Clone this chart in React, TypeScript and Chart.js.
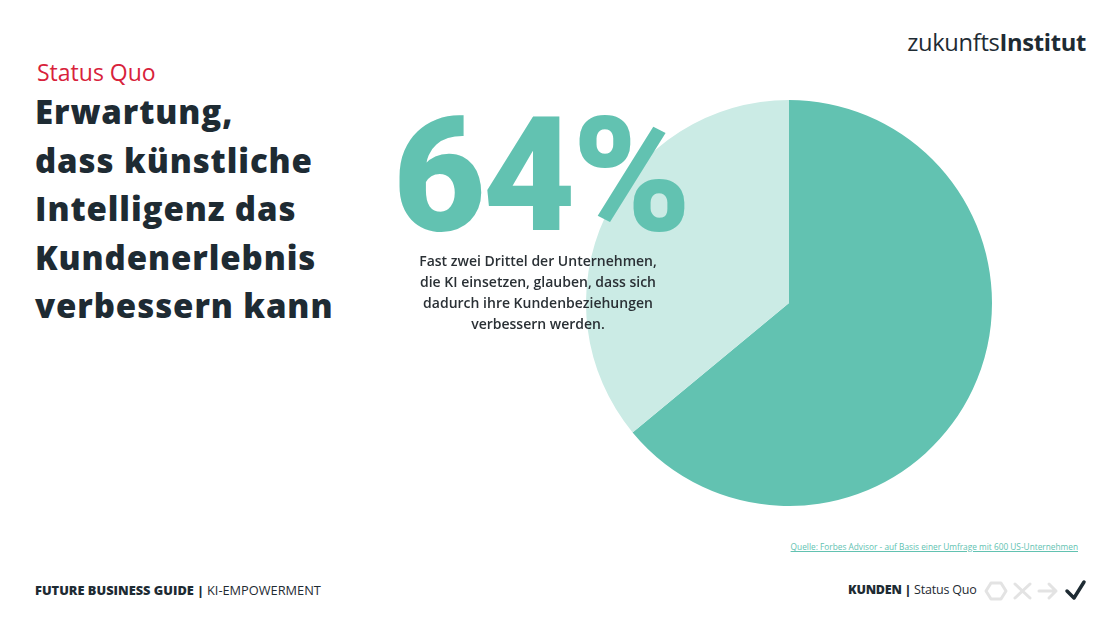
import React, { useEffect, useRef } from "react";
import { Chart, registerables } from "chart.js";

Chart.register(...registerables);

const categories = ["Erwarten bessere Kundenbeziehungen", "Übrige Unternehmen"];
const values = [64, 36];
const sliceColors = ["#62C2B1", "#CBEBE5"];

const headlineLines = [
  "Erwartung,",
  "dass künstliche",
  "Intelligenz das",
  "Kundenerlebnis",
  "verbessern kann",
];
const bigNumber = "64%";
const descriptionLines = [
  "Fast zwei Drittel der Unternehmen,",
  "die KI einsetzen, glauben, dass sich",
  "dadurch ihre Kundenbeziehungen",
  "verbessern werden.",
];
const sourceText = "Quelle: Forbes Advisor - auf Basis einer Umfrage mit 600 US-Unternehmen";

const dark = "#1E2B33";

export default function App() {
  const canvasRef = useRef<HTMLCanvasElement | null>(null);

  useEffect(() => {
    document.body.style.margin = "0";
    const canvas = canvasRef.current;
    if (!canvas) return;
    const chart = new Chart(canvas, {
      type: "pie",
      data: {
        labels: categories,
        datasets: [
          {
            data: values,
            backgroundColor: sliceColors,
            borderWidth: 0,
            hoverOffset: 0,
          },
        ],
      },
      options: {
        responsive: false,
        animation: false,
        layout: { padding: 0 },
        plugins: {
          legend: { display: false },
          tooltip: { enabled: false },
          title: { display: false },
        },
      },
    });
    return () => chart.destroy();
  }, []);

  return (
    <div
      style={{
        position: "relative",
        width: 1120,
        height: 630,
        background: "#ffffff",
        overflow: "hidden",
        fontFamily: "'Open Sans', sans-serif",
      }}
    >
      <canvas
        ref={canvasRef}
        width={406}
        height={406}
        style={{ position: "absolute", left: 586, top: 100, width: 406, height: 406 }}
      />

      {/* Logo */}
      <div
        style={{
          position: "absolute",
          right: 34,
          top: 27,
          fontFamily: "'Open Sans', sans-serif",
          fontSize: 23.7,
          color: dark,
          letterSpacing: -0.3,
          lineHeight: "30px",
        }}
      >
        <span style={{ fontWeight: 500 }}>zukunfts</span>
        <span style={{ fontWeight: 700 }}>Institut</span>
      </div>

      {/* Status Quo */}
      <div
        style={{
          position: "absolute",
          left: 37,
          top: 58,
          fontSize: 23,
          color: "#D8223B",
          lineHeight: "28px",
          fontFamily: "'Open Sans', sans-serif",
        }}
      >
        Status Quo
      </div>

      {/* Headline */}
      <div
        style={{
          position: "absolute",
          left: 35,
          top: 88,
          fontFamily: "'Open Sans', sans-serif",
          fontWeight: 800,
          fontSize: 33,
          lineHeight: "48.5px",
          letterSpacing: 0.9,
          color: dark,
          whiteSpace: "nowrap",
        }}
      >
        {headlineLines.map((l, i) => (
          <div key={i}>{l}</div>
        ))}
      </div>

      {/* Big number */}
      <div
        style={{
          position: "absolute",
          left: 393,
          top: 86,
          fontFamily: "Roboto, sans-serif",
          fontWeight: 900,
          fontSize: 160,
          lineHeight: "180px",
          letterSpacing: -3,
          color: "#62C2B1",
          whiteSpace: "nowrap",
          zIndex: 2,
        }}
      >
        {bigNumber}
      </div>

      {/* Description */}
      <div
        style={{
          position: "absolute",
          left: 388,
          width: 300,
          top: 250,
          textAlign: "center",
          fontFamily: "'Open Sans', sans-serif",
          fontWeight: 600,
          fontSize: 14,
          lineHeight: "21px",
          color: "#2A3035",
          whiteSpace: "nowrap",
          zIndex: 2,
        }}
      >
        {descriptionLines.map((l, i) => (
          <div key={i}>{l}</div>
        ))}
      </div>

      {/* Source */}
      <div
        style={{
          position: "absolute",
          right: 42,
          top: 541,
          fontFamily: "'Open Sans', sans-serif",
          fontSize: 8.3,
          color: "#62C2B1",
          textDecoration: "underline",
          whiteSpace: "nowrap",
        }}
      >
        {sourceText}
      </div>

      {/* Footer left */}
      <div
        style={{
          position: "absolute",
          left: 35,
          top: 581,
          fontFamily: "'Open Sans', sans-serif",
          fontSize: 12.8,
          color: dark,
          whiteSpace: "nowrap",
          lineHeight: "18px",
        }}
      >
        <span style={{ fontWeight: 800 }}>FUTURE BUSINESS GUIDE | </span>
        <span style={{ fontWeight: 400 }}>KI-EMPOWERMENT</span>
      </div>

      {/* Footer right */}
      <div
        style={{
          position: "absolute",
          left: 848,
          top: 581,
          fontFamily: "'Open Sans', sans-serif",
          fontSize: 12.5,
          letterSpacing: -0.2,
          color: dark,
          whiteSpace: "nowrap",
          lineHeight: "18px",
        }}
      >
        <span style={{ fontWeight: 800 }}>KUNDEN | </span>
        <span style={{ fontWeight: 400 }}>Status Quo</span>
      </div>

      <svg
        width={110}
        height={30}
        style={{ position: "absolute", left: 982, top: 576 }}
        viewBox="0 0 110 30"
      >
        <polygon
          points="9,7 19,7 24,15 19,23 9,23 4,15"
          fill="none"
          stroke="#E3E3E3"
          strokeWidth={3}
          strokeLinejoin="round"
        />
        <path d="M33,8 L48,22 M48,8 L33,22" stroke="#E3E3E3" strokeWidth={3} strokeLinecap="round" />
        <path d="M57,15 L74,15 M67,8 L74,15 L67,22" stroke="#E3E3E3" strokeWidth={3} fill="none" strokeLinecap="round" strokeLinejoin="round" />
        <path d="M85,15 L92,22 L102,6" stroke={dark} strokeWidth={3.5} fill="none" strokeLinecap="round" strokeLinejoin="round" />
      </svg>
    </div>
  );
}
